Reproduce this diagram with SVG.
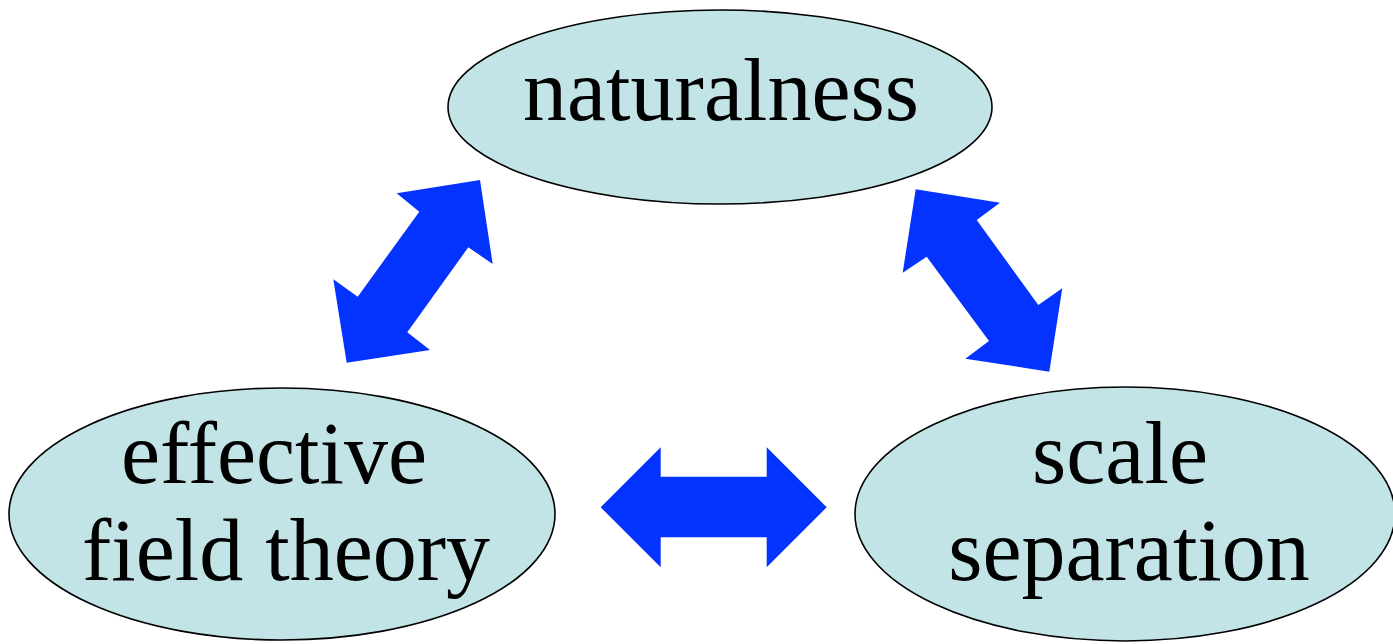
<svg xmlns="http://www.w3.org/2000/svg" width="1393" height="644" viewBox="0 0 1393 644">
  <style>
    .node ellipse { fill: #C3E4E7; stroke: #000; stroke-width: 1.6; }
    .node text { font-family: "Liberation Serif", "Times New Roman", serif; font-size: 88px; fill: #000; text-anchor: middle; }
    .link { fill: #0433FF; stroke: none; }
  </style>
  <rect width="1393" height="644" fill="#fff"/>

  <!-- double-headed block arrows between the three concepts -->
  <g id="connectors">
    <polygon class="link" points="480,180 492.7,264 468.3,247.3 407.3,332.3 430,350 346.7,362.7 333.3,279.3 357.7,296.7 419.3,211.7 396.7,193.3"/>
    <polygon class="link" points="915.7,189.3 1000,202.7 976.7,220 1038.3,305 1062.3,288.3 1049.3,371.7 965.3,358.7 989,341 926.7,256.7 902.7,272.7"/>
    <polygon class="link" points="600.7,507.3 660.7,447.3 660.7,476.7 766.7,476.7 766.7,447.3 826.7,507.3 766.7,567.3 766.7,537.3 660.7,537.3 660.7,567.3"/>
  </g>

  <g id="naturalness" class="node">
    <ellipse cx="720" cy="107" rx="272" ry="97"/>
    <text x="721" y="120">naturalness</text>
  </g>

  <g id="effective-field-theory" class="node">
    <ellipse cx="282" cy="514" rx="273" ry="126"/>
    <text x="274" y="483">effective</text>
    <text x="286" y="580">field theory</text>
  </g>

  <g id="scale-separation" class="node">
    <ellipse cx="1125" cy="514" rx="270" ry="127"/>
    <text x="1120" y="483">scale</text>
    <text x="1129" y="580">separation</text>
  </g>
</svg>
